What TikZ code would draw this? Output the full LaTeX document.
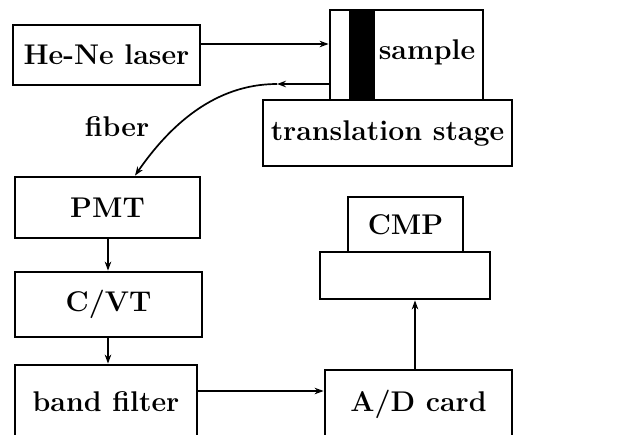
\documentclass[tikz,border=0pt]{standalone}
\usepackage{fontspec}
\usetikzlibrary{arrows.meta}
\tikzset{
  box/.style={draw,line width=2.8pt,inner sep=0pt,fill=white},
  arr/.style={-{Stealth[length=9pt,width=6.5pt]},line width=1.7pt},
  lbl/.style={font=\fontsize{28.5}{30}\selectfont\bfseries},
}

\begin{document}
\begin{tikzpicture}[x=1pt,y=-1pt,every node/.style={font=\fontsize{28.5}{30}\selectfont\bfseries}]
 \useasboundingbox (0,0) rectangle (618,434);
 \clip (0,0) rectangle (618,434);
 \node[box,minimum width=187pt,minimum height=60pt] (laser) at (106.5,55) {He-Ne laser};
 \node[box,minimum width=153pt,minimum height=90pt] (smp) at (406.5,55) {};
 \fill ([xshift=20pt]smp.north west) rectangle ([xshift=46pt]smp.south west);
 \node[lbl] (smptxt) at (427,52) {sample};
 \node[box,minimum width=249pt,minimum height=66pt] (stage) at (387.5,133) {translation stage};
 \node[lbl] (fib) at (117,127) {fiber};
 \node[box,minimum width=185pt,minimum height=61pt] (PMT) at (107.5,207.5) {PMT};
 \node[box,minimum width=187pt,minimum height=65pt] (CVT) at (108.5,304.5) {C/VT};
 \node[box,minimum width=182pt,minimum height=74pt] (band) at (106,402) {band filter};
 \node[box,minimum width=187pt,minimum height=68pt] (AD) at (418.5,404) {A/D card};
 \node[box,minimum width=115pt,minimum height=55pt] (CMP) at (405.5,224.5) {CMP};
 \node[box,minimum width=170pt,minimum height=47pt] (base) at (405,275.5) {};
 \coordinate (fbend) at (277,84);
 \draw[arr] (laser.east |- 0,44) -- (smp.west |- 0,44);
 \draw[arr] (smp.west |- 0,84) -- (fbend);
 \draw[arr] (fbend) .. controls (215,84) and (170,125) .. (PMT.north -| 135,0);
 \draw[arr] (PMT.south -| 108,0) -- (CVT.north -| 108,0);
 \draw[arr] (CVT.south -| 108,0) -- (band.north -| 108,0);
 \draw[arr] (band.east |- 0,391) -- (AD.west |- 0,391);
 \draw[arr] (AD.north -| 415,0) -- (base.south -| 415,0);
\end{tikzpicture}
\end{document}
